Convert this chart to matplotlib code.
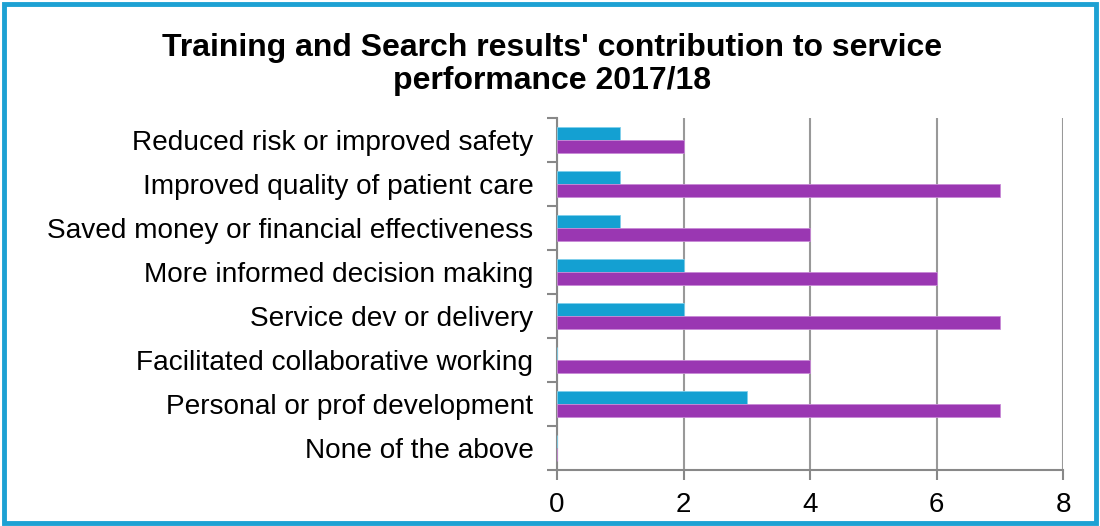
import matplotlib
matplotlib.use("Agg")
import matplotlib.pyplot as plt
from matplotlib.patches import Rectangle
import numpy as np

categories = ["Reduced risk or improved safety", "Improved quality of patient care",
              "Saved money or financial effectiveness", "More informed decision making",
              "Service dev or delivery", "Facilitated collaborative working",
              "Personal or prof development", "None of the above"]
training = [1, 1, 1, 2, 2, 0, 3, 0]
search = [2, 7, 4, 6, 7, 4, 7, 0]
xticks = [0, 2, 4, 6, 8]
title = "Training and Search results' contribution to service\nperformance 2017/18"

plt.rcParams['font.family'] = ['Liberation Sans', 'DejaVu Sans']

fig = plt.figure(figsize=(11, 5.26), dpi=100)
ax = fig.add_axes([0.5064, 0.1065, 0.46, 0.6692])

y = np.arange(len(categories))
h = 0.285
blue = "#14A0D2"
purple = "#9A37B2"
ax.barh(y - h / 2, training, height=h, color=blue, edgecolor="#7FD0EC", linewidth=0.6, zorder=3)
ax.barh(y + h / 2, search, height=h, color=purple, edgecolor="#C88AD6", linewidth=0.6, zorder=3)

ax.set_xlim(0, 8)
ax.set_ylim(len(categories) - 0.5, -0.5)
ax.set_xticks(xticks)
ax.set_xticklabels([str(t) for t in xticks], fontsize=20)
ax.set_yticks(y)
ax.set_yticklabels(categories, fontsize=20.2)
ax.tick_params(axis='y', length=0, pad=17)
ax.set_yticks(np.arange(-0.5, len(categories), 1), minor=True)
ax.tick_params(axis='y', which='minor', length=7, color="#888888", width=1.5)
ax.tick_params(axis='x', length=7, color="#888888", width=1.5, pad=9)

ax.grid(axis='x', color="#999999", linewidth=1.5, zorder=0)
for s in ["top", "right"]:
    ax.spines[s].set_visible(False)
for s in ["left", "bottom"]:
    ax.spines[s].set_color("#888888")
    ax.spines[s].set_linewidth(1.5)

fig.text(0.502, 0.877, title, ha="center", va="center", fontsize=23,
         fontweight="bold", linespacing=1.12)

fig.patches.append(Rectangle((0.004, 0.005), 0.992, 0.987, transform=fig.transFigure,
                             fill=False, edgecolor="#1DA1D3", linewidth=3.5))

fig.savefig("out.png", dpi=100)
